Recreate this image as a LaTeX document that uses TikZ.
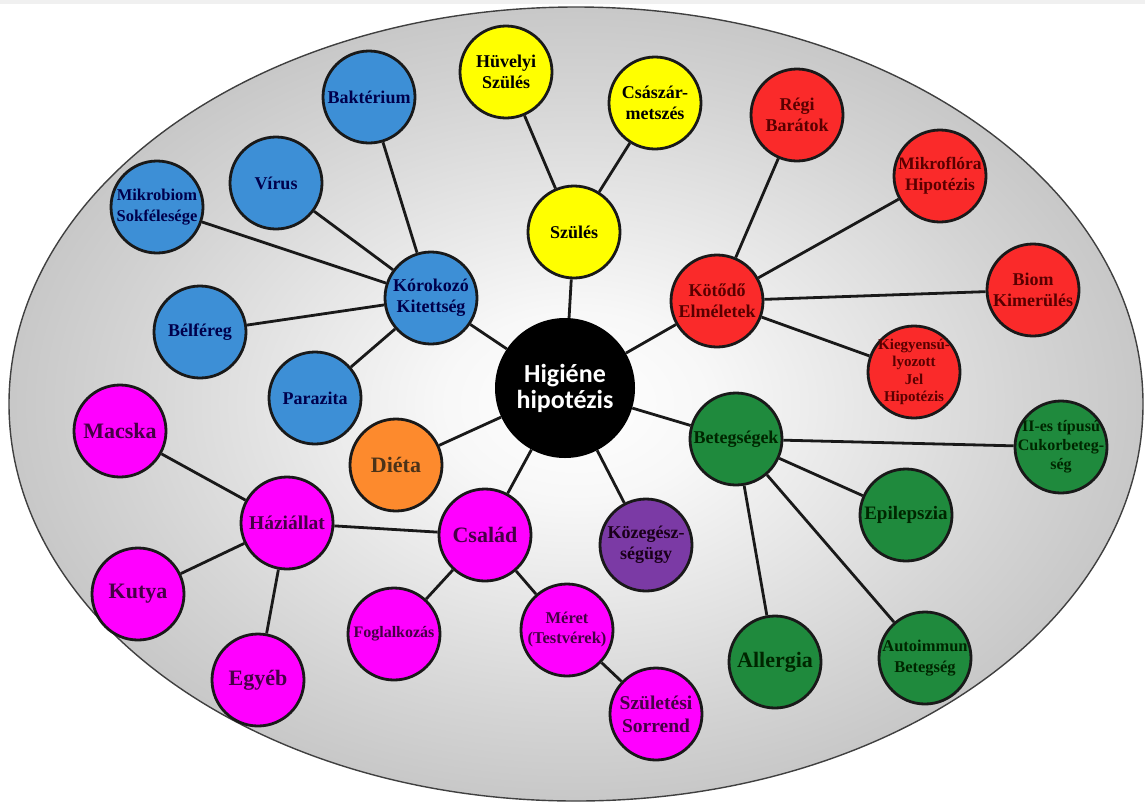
\documentclass[tikz,border=0pt]{standalone}
\usepackage{fontspec}
\setmainfont{Liberation Serif}
\newfontfamily\carlito{Carlito}
\usepackage{tikz}
\usepackage[dvipsnames]{xcolor}

\definecolor{korblue}{RGB}{61,143,214}
\definecolor{szulyellow}{RGB}{255,255,0}
\definecolor{kotred}{RGB}{250,42,42}
\definecolor{csalpink}{RGB}{255,0,255}
\definecolor{dietorange}{RGB}{253,138,45}
\definecolor{kozpurple}{RGB}{123,58,165}
\definecolor{betgreen}{RGB}{31,138,61}
\pgfdeclareradialshading{bowl}{\pgfpoint{0bp}{0bp}}{color(0bp)=(white); color(6bp)=(white!97!black); color(20bp)=(black!17); color(35bp)=(black!31); color(46bp)=(black!44); color(50bp)=(black!52)}

\begin{document}
\begin{tikzpicture}[x=1pt,y=-1pt,
    bubble/.style={circle,draw=black!90,line width=2.8pt,minimum size=92pt,inner sep=-8pt,align=center,
        font=\bfseries\fontsize{18}{21}\selectfont},
    big/.style={font=\bfseries\fontsize{22}{25}\selectfont},
    small/.style={font=\bfseries\fontsize{15.5}{18}\selectfont},
    kor/.style={bubble,fill=korblue,text=blue!30!black},
    szul/.style={bubble,fill=szulyellow,text=black},
    kot/.style={bubble,fill=kotred,text=red!35!black},
    csal/.style={bubble,fill=csalpink,text=violet!55!black},
    diet/.style={bubble,fill=dietorange,text=brown!40!black},
    koz/.style={bubble,fill=kozpurple,text=violet!20!black},
    beteg/.style={bubble,fill=betgreen,text=green!15!black},
    link/.style={line width=2.8pt,black!90}]
    \useasboundingbox (0,0) rectangle (1145,804);
    \fill[black!6] (0,0) rectangle (1145,4);
    \shade[shading=bowl,draw=black!75,line width=1.4pt] (576,404) ellipse (567 and 397);

    \node[circle,fill=black,minimum size=140pt,inner sep=0pt,text=white,align=center,
        font=\carlito\bfseries\fontsize{26}{26}\selectfont] (hig) at (565,388) {Higiéne\\hipotézis};

    \node[szul] (szul) at (574,232) {Szülés};
    \node[szul] (huv) at (506,72) {Hüvelyi\\Szülés};
    \node[szul] (csa) at (655,103) {Császár-\\metszés};

    \node[kor] (kor) at (431,298) {Kórokozó\\Kitettség};
    \node[kor] (bak) at (369,97) {Baktérium};
    \node[kor] (vir) at (276,183) {Vírus};
    \node[kor,font=\bfseries\fontsize{16.5}{21}\selectfont] (mik) at (157,207) {Mikrobiom\\Sokfélesége};
    \node[kor] (bel) at (200,332) {Bélféreg};
    \node[kor] (par) at (315,398) {Parazita};

    \node[kot] (kot) at (717,301) {Kötődő\\Elméletek};
    \node[kot] (reg) at (797,115) {Régi\\Barátok};
    \node[kot,font=\bfseries\fontsize{17.5}{21}\selectfont] (mfl) at (940,176) {Mikroflóra\\Hipotézis};
    \node[kot] (bio) at (1033,290) {Biom\\Kimerülés};
    \node[kot,small,font=\bfseries\fontsize{15}{17.5}\selectfont] (kie) at (914,372) {Kiegyensú-\\lyozott\\Jel\\Hipotézis};

    \node[beteg] (bet) at (736,439) {Betegségek};
    \node[beteg,font=\bfseries\fontsize{16}{19}\selectfont] (cuk) at (1061,447) {II-es típusú\\Cukorbeteg-\\ség};
    \node[beteg,font=\bfseries\fontsize{19}{21}\selectfont] (epi) at (906,515) {Epilepszia};
    \node[beteg,big] (all) at (775,662) {Allergia};
    \node[beteg,font=\bfseries\fontsize{16.5}{21}\selectfont] (aut) at (925,658) {Autoimmun\\Betegség};

    \node[diet,big] (die) at (396,465) {Diéta};
    \node[koz] (koz) at (646,545) {Közegész-\\ségügy};

    \node[csal,big] (csal) at (485,535) {Család};
    \node[csal,font=\bfseries\fontsize{16}{19}\selectfont] (fog) at (394,634) {Foglalkozás};
    \node[csal,font=\bfseries\fontsize{16.5}{20}\selectfont] (mer) at (567,630) {Méret\\(Testvérek)};
    \node[csal,font=\bfseries\fontsize{19.5}{23}\selectfont] (sor) at (656,714) {Születési\\Sorrend};
    \node[csal,font=\bfseries\fontsize{19.5}{23}\selectfont] (haz) at (287,523) {Háziállat};
    \node[csal,big] (mac) at (120,431) {Macska};
    \node[csal,big] (kut) at (138,594) {Kutya};
    \node[csal,big] (egy) at (258,680) {Egyéb};

    \draw[link] (hig) -- (szul) (hig) -- (kor) (hig) -- (kot) (hig) -- (bet)
        (hig) -- (die) (hig) -- (csal) (hig) -- (koz);
    \draw[link] (szul) -- (huv) (szul) -- (csa);
    \draw[link] (kor) -- (bak) (kor) -- (vir) (kor) -- (mik) (kor) -- (bel) (kor) -- (par);
    \draw[link] (kot) -- (reg) (kot) -- (mfl) (kot) -- (bio) (kot) -- (kie);
    \draw[link] (bet) -- (cuk) (bet) -- (epi) (bet) -- (all) (bet) -- (aut);
    \draw[link] (csal) -- (haz) (csal) -- (fog) (csal) -- (mer) (mer) -- (sor);
    \draw[link] (haz) -- (mac) (haz) -- (kut) (haz) -- (egy);
\end{tikzpicture}
\end{document}
